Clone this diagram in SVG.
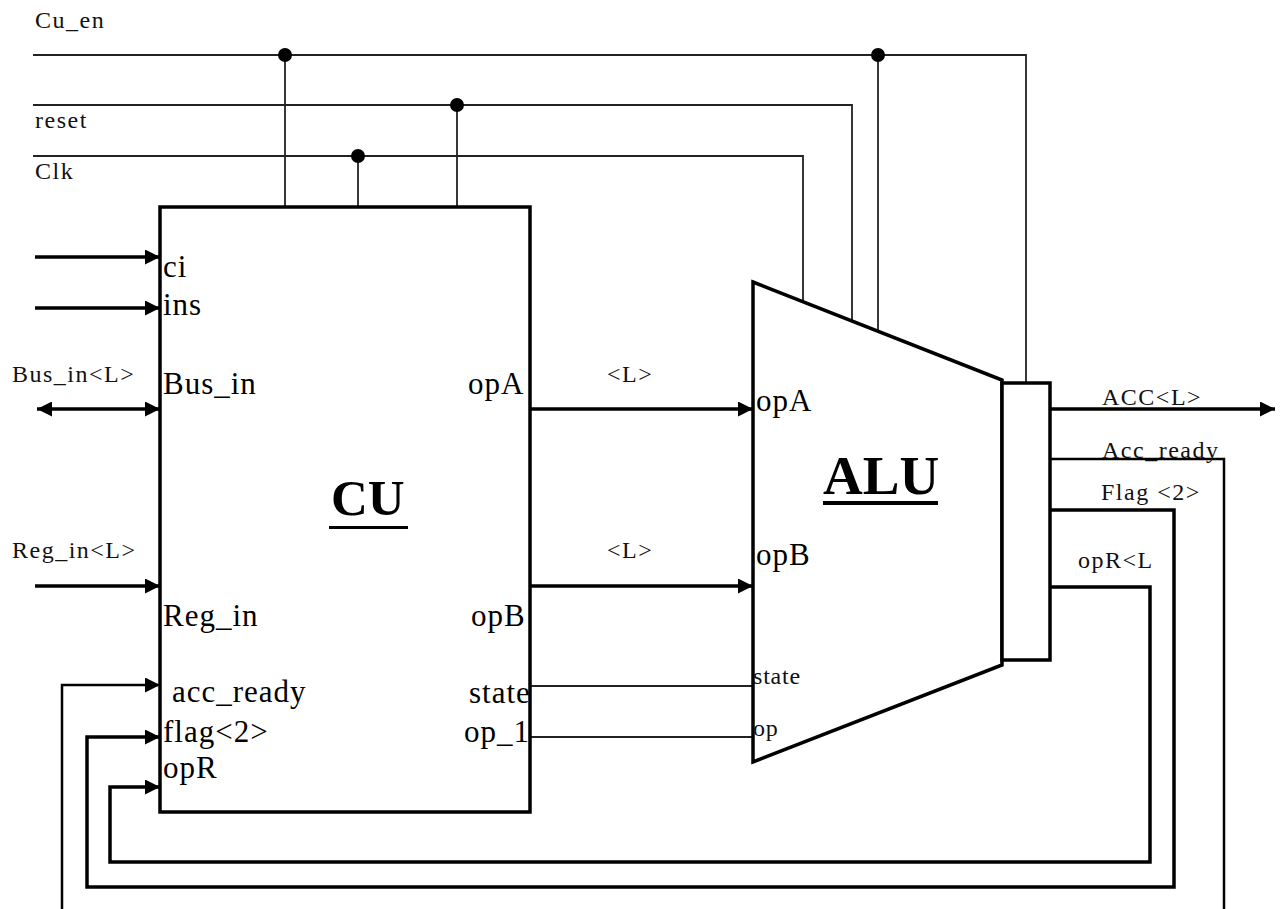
<svg xmlns="http://www.w3.org/2000/svg" width="1282" height="909" viewBox="0 0 1282 909">
<style>
  .big{font-family:"Liberation Serif","Times New Roman",serif;font-size:31px;letter-spacing:1px;fill:#000}
  .sm{font-family:"Liberation Serif","Times New Roman",serif;font-size:24px;letter-spacing:1.5px;fill:#111}
  .smx{font-family:"Liberation Serif","Times New Roman",serif;font-size:24px;letter-spacing:0.8px;fill:#111}
  .title{font-family:"Liberation Serif","Times New Roman",serif;font-weight:bold;fill:#000}
  .box{fill:#fff;stroke:#000;stroke-width:3.5}
  .thin{fill:none;stroke:#222;stroke-width:1.8}
  .thick{fill:none;stroke:#000;stroke-width:3.5}
  .mid{fill:none;stroke:#000;stroke-width:2.5}
  .dot{fill:#000}
</style>
<defs>
  <marker id="ah" viewBox="0 0 10 10" refX="10" refY="5" markerWidth="16" markerHeight="15" markerUnits="userSpaceOnUse" orient="auto-start-reverse">
    <path d="M0,0 L10,5 L0,10 z" fill="#000"/>
  </marker>
</defs>
<rect width="1282" height="909" fill="#fff"/>

<g id="connectors">
  <!-- Cu_en -->
  <polyline class="thin" points="33,55 1026,55 1026,383"/>
  <line class="thin" x1="285" y1="55" x2="285" y2="207"/>
  <line class="thin" x1="878" y1="55" x2="878" y2="331"/>
  <!-- reset -->
  <polyline class="thin" points="33,105 852,105 852,321"/>
  <line class="thin" x1="457" y1="105" x2="457" y2="207"/>
  <!-- Clk -->
  <polyline class="thin" points="33,156 803,156 803,302"/>
  <line class="thin" x1="358" y1="156" x2="358" y2="207"/>
  <circle class="dot" cx="285" cy="55" r="7"/>
  <circle class="dot" cx="878" cy="55" r="7"/>
  <circle class="dot" cx="457" cy="105" r="7"/>
  <circle class="dot" cx="358" cy="156" r="7"/>

  <!-- left inputs -->
  <line class="thick" x1="35" y1="257" x2="160" y2="257" marker-end="url(#ah)"/>
  <line class="thick" x1="35" y1="308" x2="160" y2="308" marker-end="url(#ah)"/>
  <line class="thick" x1="37" y1="409" x2="160" y2="409" marker-start="url(#ah)" marker-end="url(#ah)"/>
  <line class="thick" x1="35" y1="586" x2="160" y2="586" marker-end="url(#ah)"/>

  <!-- CU to ALU -->
  <line class="thick" x1="530" y1="409" x2="753" y2="409" marker-end="url(#ah)"/>
  <line class="thick" x1="530" y1="586" x2="753" y2="586" marker-end="url(#ah)"/>
  <line class="thin" x1="530" y1="686" x2="753" y2="686"/>
  <line class="thin" x1="530" y1="737" x2="753" y2="737"/>

  <!-- outputs -->
  <line class="thick" x1="1050" y1="409" x2="1275" y2="409" marker-end="url(#ah)"/>
  <polyline class="mid" points="1050,459 1224,459 1224,909"/>
  <polyline class="thick" points="1050,510 1174,510 1174,887 87,887 87,737 160,737" marker-end="url(#ah)"/>
  <polyline class="thick" points="1050,587 1150,587 1150,862 110,862 110,787 160,787" marker-end="url(#ah)"/>
  <polyline class="mid" points="62,909 62,685 160,685" marker-end="url(#ah)"/>
</g>

<g id="CU">
  <rect class="box" x="160" y="207" width="370" height="605"/>
  <text class="title" x="331" y="515" font-size="51">CU</text>
  <rect x="329" y="526" width="79" height="3" fill="#000"/>
  <text class="big" x="163" y="277">ci</text>
  <text class="big" x="163" y="315">ins</text>
  <text class="big" x="163" y="394">Bus_in</text>
  <text class="big" x="163" y="626">Reg_in</text>
  <text class="big" x="172" y="702">acc_ready</text>
  <text class="big" x="163" y="742">flag&lt;2&gt;</text>
  <text class="big" x="163" y="778">opR</text>
  <text class="big" x="468" y="394">opA</text>
  <text class="big" x="471" y="626">opB</text>
  <text class="big" x="469" y="703">state</text>
  <text class="big" x="464" y="742">op_1</text>
</g>

<g id="ALU">
  <polygon class="box" points="753,282 1002,380 1002,665 753,762"/>
  <text class="title" x="823" y="494" font-size="55">ALU</text>
  <rect x="823" y="501" width="115" height="4" fill="#000"/>
  <text class="big" x="756" y="411">opA</text>
  <text class="big" x="756" y="565">opB</text>
  <text class="smx" x="753" y="684">state</text>
  <text class="smx" x="753" y="736">op</text>
</g>

<g id="ACC">
  <rect class="box" x="1002" y="383" width="48" height="277"/>
</g>

<g id="labels">
  <text class="sm" x="35" y="28">Cu_en</text>
  <text class="sm" x="35" y="128">reset</text>
  <text class="sm" x="35" y="179">Clk</text>
  <text class="sm" x="12" y="382">Bus_in&lt;L&gt;</text>
  <text class="sm" x="12" y="558">Reg_in&lt;L&gt;</text>
  <text class="sm" x="607" y="382">&lt;L&gt;</text>
  <text class="sm" x="607" y="558">&lt;L&gt;</text>
  <text class="sm" x="1102" y="405">ACC&lt;L&gt;</text>
  <text class="sm" x="1102" y="458">Acc_ready</text>
  <text class="sm" x="1101" y="500">Flag &lt;2&gt;</text>
  <text class="sm" x="1078" y="568">opR&lt;L</text>
</g>
</svg>
